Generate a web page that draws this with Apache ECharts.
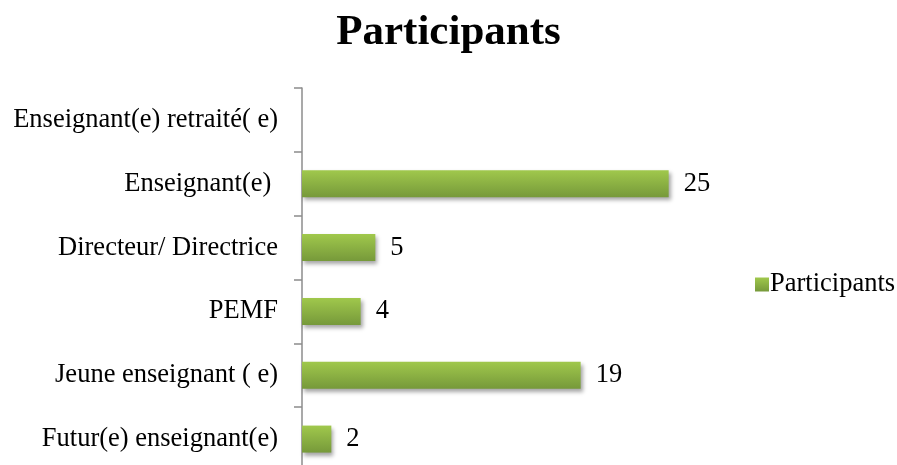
<!DOCTYPE html>
<html>
<head>
<meta charset="utf-8">
<script src="https://cdn.jsdelivr.net/npm/echarts@6/dist/echarts.min.js"></script>
<style>html,body{margin:0;padding:0;background:#fff;overflow:hidden}#c{width:897px;height:471px}</style>
</head>
<body>
<div id="c"></div>
<script>
const categories = ['Futur(e) enseignant(e)', 'Jeune enseignant ( e)', 'PEMF', 'Directeur/ Directrice', 'Enseignant(e) ', 'Enseignant(e) retraité( e)'];
const values = [2, 19, 4, 5, 25, 0];
const seriesName = 'Participants';
const titleText = 'Participants';

const serif = '"Liberation Serif", "Times New Roman", serif';
const chart = echarts.init(document.getElementById('c'));
const grad = new echarts.graphic.LinearGradient(0, 0, 0, 1, [
  { offset: 0, color: '#a0c84c' },
  { offset: 1, color: '#76993a' }
]);
chart.setOption({
  animation: false,
  title: {
    text: titleText, left: 'center', top: 6,
    textStyle: { fontFamily: serif, fontWeight: 'bold', fontSize: 43, color: '#000' }
  },
  legend: {
    data: [seriesName], orient: 'vertical', left: 750, top: 266,
    itemWidth: 14, itemHeight: 14, itemGap: 5, icon: 'rect',
    textStyle: { fontFamily: serif, fontSize: 26.5, color: '#000', padding: [0, 0, 0, -4] }
  },
  grid: { left: 302, top: 88, width: 440, bottom: 0, containLabel: false },
  xAxis: {
    type: 'value', min: 0, max: 30, show: false
  },
  yAxis: {
    type: 'category', data: categories,
    axisLine: { show: true, lineStyle: { color: '#8c8c8c', width: 1.5 } },
    axisTick: { show: true, length: 8, lineStyle: { color: '#8c8c8c', width: 1.5 } },
    axisLabel: { fontFamily: serif, fontSize: 26.5, color: '#000', margin: 24 }
  },
  series: [{
    name: seriesName, type: 'bar', data: values, barWidth: 27,
    itemStyle: {
      color: grad,
      shadowColor: 'rgba(0,0,0,0.35)', shadowBlur: 4, shadowOffsetX: 2, shadowOffsetY: 3
    },
    label: {
      show: true, position: 'right', distance: 15,
      fontFamily: serif, fontSize: 26.5, color: '#000',
      formatter: p => (p.value ? String(p.value) : '')
    }
  }]
});
</script>
</body>
</html>
